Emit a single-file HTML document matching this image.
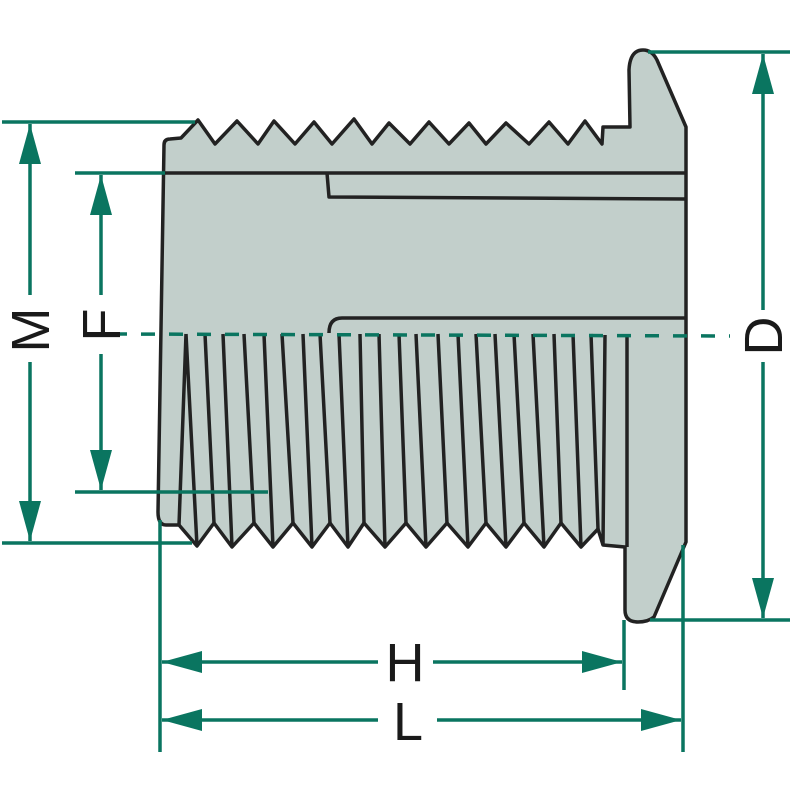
<!DOCTYPE html>
<html><head><meta charset="utf-8"><style>html,body{margin:0;padding:0;background:#fff}svg{display:block}</style></head>
<body>
<svg width="800" height="800" viewBox="0 0 800 800" xmlns="http://www.w3.org/2000/svg">
<defs>
<marker id="a" viewBox="0 0 40 22" refX="40" refY="11" markerWidth="40" markerHeight="22" markerUnits="userSpaceOnUse" orient="auto"><path d="M0,0 L40,11 L0,22 Z" fill="#0a7560"/></marker>
</defs>
<!-- body -->
<path d="M164,145 Q164,139 170,139 L181,138 L198,120 L215,144 L237,121 L258,144 L274,121 L295,144 L314,122 L332,144 L354,119 L372,144 L389,123 L410,144 L429,122 L449,144 L469,123 L486,144 L506,123 L529,144 L549,122 L568,144 L585,121 L602,144 L603,127 L630,127 L629,70 Q630,50 643,50 Q652,50 657,60 L686,127 L686,542 L654,617 Q648,622 638,622 Q625,622 625,610 L625,547 L603,545 L598,529 L581,547 L561,523 L544,547 L524,523 L506,547 L486,523 L468,547 L447,523 L426,547 L406,523 L385,547 L364,523 L348,547 L330,523 L312,547 L293,523 L273,547 L254,523 L232,547 L214,523 L197,546 L179,525 L166,525 Q158,525 158,512 Z" fill="#c2cfcb" stroke="#222" stroke-width="3.5" stroke-linejoin="round"/>
<g stroke="#222" stroke-width="3.5" fill="none" stroke-linejoin="round">
<path d="M165,173 L686,173"/>
<path d="M327,173 L329,197 L686,199"/>
<path d="M329,333 Q329,318 342,318 L686,318"/>
<path d="M186,334 L179,525 M186,334 L197,546"/>
<path d="M205,334 L214,523 M223,334 L232,547 M244,334 L254,523 M264,334 L273,547 M282,334 L293,523 M303,334 L312,547 M320,334 L330,523 M339,334 L348,547 M360,334 L364,523 M379,334 L385,547 M399,334 L406,523 M416,334 L426,547 M438,334 L447,523 M458,334 L468,547 M476,334 L486,523 M495,334 L506,547 M514,334 L524,523 M533,334 L544,547 M554,334 L561,523 M573,334 L581,547 M591,334 L598,529"/>
<path d="M605,335 L603,545 M627,336 L627,547"/>
</g>
<!-- centre dashed line -->
<line x1="113" y1="334" x2="730" y2="336" stroke="#0a7560" stroke-width="3.5" stroke-dasharray="14,14"/>
<!-- dimension lines -->
<g stroke="#0a7560" stroke-width="3.5" fill="none">
<path d="M2,122 L195,122 M2,543 L192,543"/>
<path d="M75,173 L165,173 M75,492 L268,492"/>
<path d="M648,52 L790,52 M650,620 L790,620"/>
<path d="M160,520 L160,752 M624,620 L624,690 M683,545 L683,752"/>
<line x1="30" y1="295" x2="30" y2="124" marker-end="url(#a)"/>
<line x1="30" y1="362" x2="30" y2="541" marker-end="url(#a)"/>
<line x1="101" y1="295" x2="101" y2="175" marker-end="url(#a)"/>
<line x1="101" y1="354" x2="101" y2="490" marker-end="url(#a)"/>
<line x1="763" y1="310" x2="763" y2="54" marker-end="url(#a)"/>
<line x1="763" y1="362" x2="763" y2="618" marker-end="url(#a)"/>
<line x1="378" y1="662" x2="162" y2="662" marker-end="url(#a)"/>
<line x1="433" y1="662" x2="622" y2="662" marker-end="url(#a)"/>
<line x1="378" y1="720" x2="162" y2="720" marker-end="url(#a)"/>
<line x1="437" y1="720" x2="681" y2="720" marker-end="url(#a)"/>
</g>
<g font-family="Liberation Sans, sans-serif" font-size="54" fill="#1a1a1a" text-anchor="middle">
<text x="405" y="681">H</text>
<text x="408" y="740">L</text>
<text transform="translate(49,330) rotate(-90)">M</text>
<text transform="translate(120,325) rotate(-90)">F</text>
<text transform="translate(782,336) rotate(-90)">D</text>
</g>
</svg>
</body></html>
